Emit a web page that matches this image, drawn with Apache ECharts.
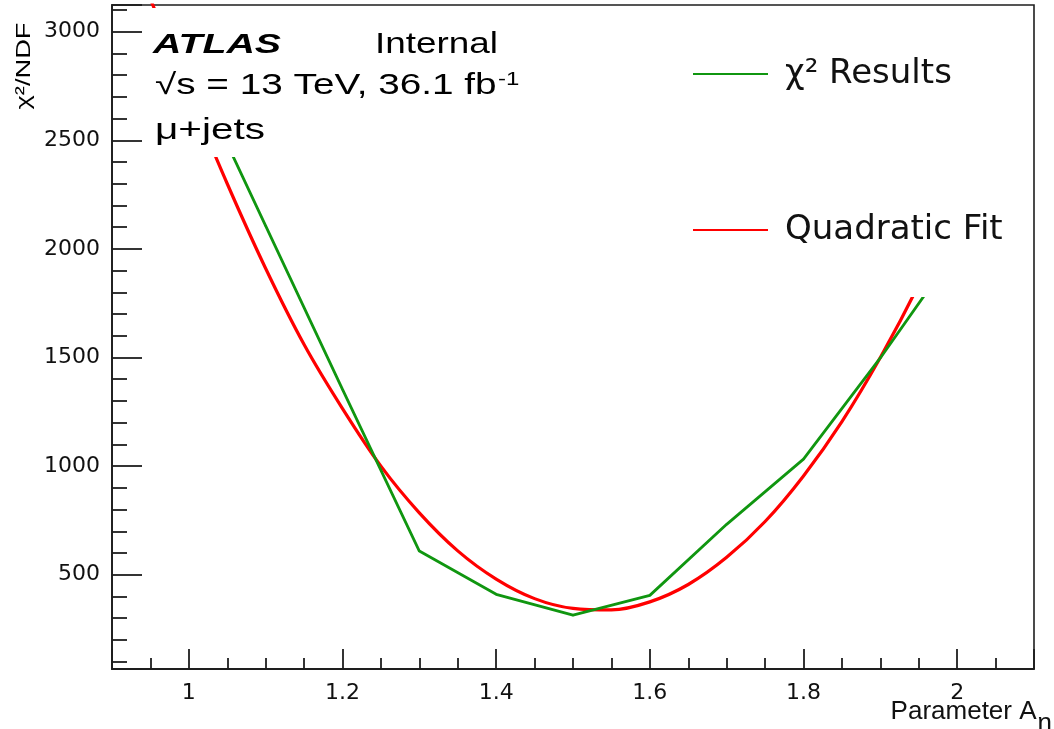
<!DOCTYPE html>
<html>
<head>
<meta charset="utf-8">
<script src="https://cdn.jsdelivr.net/npm/echarts@6/dist/echarts.min.js"></script>
<style>
  html, body { margin: 0; padding: 0; background: #ffffff; }
  #chart { width: 1054px; height: 729px; }
</style>
</head>
<body>
<div id="chart"></div>
<script>
// chi2/NDF scan over the parameter A_eta, with a quadratic fit
const scanParam = [1.0, 1.1, 1.2, 1.3, 1.4, 1.5, 1.6, 1.7, 1.8, 1.9, 2.0];
const scanChi2  = [2860, 2106, 1353, 609, 410, 314, 405, 732, 1032, 1498, 2000];

const fitParam = [0.95, 1.0, 1.05, 1.1, 1.15, 1.2, 1.25, 1.3, 1.35, 1.4, 1.45,
                  1.5, 1.55, 1.6, 1.65, 1.7, 1.75, 1.8, 1.85, 1.9, 1.95, 2.0];
const fitChi2  = [3150, 2720, 2300, 1910, 1560, 1265, 1000, 785, 610, 480, 390,
                  345, 338, 375, 455, 580, 745, 955, 1205, 1500, 1835, 2215];

const seriesNames = ['χ² Results', 'Quadratic Fit'];
const xRange = [0.9, 2.1];
const yRange = [66, 3123];

const pairs = (xs, ys) => xs.map((x, i) => [x, ys[i]]);

// text width helper, used to widen the annotation lines
const measureCtx = document.createElement('canvas').getContext('2d');
function textWidth(str, size, weight, style) {
  measureCtx.font = (style || 'normal') + ' ' + (weight || 'normal') + ' ' + size + 'px "Liberation Sans"';
  return measureCtx.measureText(str).width;
}

function label(opts) {
  const natural = opts.parts.reduce((w, p) => w + textWidth(p.t, p.size, opts.weight, opts.style), 0);
  const rich = {};
  let text = '';
  opts.parts.forEach((p, i) => {
    rich['p' + i] = {
      fontSize: p.size, fontFamily: 'Liberation Sans', fontWeight: opts.weight || 'normal',
      fontStyle: opts.style || 'normal', fill: '#000', verticalAlign: p.sup ? 'top' : 'middle',
      padding: p.sup ? [0, 0, 0, 1] : 0
    };
    text += '{p' + i + '|' + p.t + '}';
  });
  return {
    type: 'text', x: opts.x, y: opts.y, z: 101,
    rotation: opts.rotation || 0,
    scaleX: opts.width / natural,
    style: { text: text, rich: rich, fill: '#000', align: opts.align || 'left', verticalAlign: 'middle' }
  };
}

const chart = echarts.init(document.getElementById('chart'), null, { renderer: 'canvas' });

const axisColor = '#1e1e1e';

chart.setOption({
  animation: false,
  backgroundColor: '#ffffff',
  grid: {
    left: 112, top: 5, right: 20, bottom: 60,
    outerBoundsMode: 'none', containLabel: false,
    show: true, borderColor: axisColor, borderWidth: 1.6, backgroundColor: 'transparent'
  },
  xAxis: {
    type: 'value',
    min: xRange[0], max: xRange[1],
    splitNumber: 6, minInterval: 0.2, maxInterval: 0.2,
    axisLine: { show: true, onZero: false, lineStyle: { color: axisColor, width: 1.8 } },
    axisTick: { show: true, inside: true, length: 20, lineStyle: { color: axisColor, width: 1.8 } },
    minorTick: { show: true, splitNumber: 4, length: 11, lineStyle: { color: axisColor, width: 1.8 } },
    splitLine: { show: false },
    axisLabel: {
      margin: 13, color: '#111', fontSize: 22, fontFamily: 'DejaVu Sans',
      formatter: v => {
        const k = Math.round(v * 5);
        if (Math.abs(v * 5 - k) > 1e-6 || v < 0.99 || v > 2.01) return '';
        return String(Math.round(v * 10) / 10);
      }
    },
    name: '{a|Parameter A}{b|η}',
    nameLocation: 'end',
    nameGap: 18,
    nameMoveOverlap: false,
    nameTextStyle: {
      align: 'right', verticalAlign: 'top', padding: [18, 0, 0, 0],
      rich: {
        a: { fontSize: 26, fontFamily: 'Liberation Sans', color: '#111' },
        b: { fontSize: 26, fontFamily: 'Liberation Sans', color: '#111', padding: [24, 0, 0, 1] }
      }
    }
  },
  yAxis: {
    type: 'value',
    min: yRange[0], max: yRange[1],
    splitNumber: 6, minInterval: 500, maxInterval: 500,
    axisLine: { show: true, onZero: false, lineStyle: { color: axisColor, width: 1.8 } },
    axisTick: { show: true, inside: true, length: 30, lineStyle: { color: axisColor, width: 1.8 } },
    minorTick: { show: true, splitNumber: 5, length: 15, lineStyle: { color: axisColor, width: 1.8 } },
    splitLine: { show: false },
    axisLabel: {
      margin: 12, color: '#111', fontSize: 22, fontFamily: 'DejaVu Sans',
      formatter: v => (v >= 500 && Math.abs(v % 500) < 1e-6) ? String(Math.round(v)) : ''
    }
  },
  legend: {
    orient: 'vertical',
    left: 680, top: 7,
    padding: [49, 22, 49, 13],
    backgroundColor: '#ffffff',
    itemGap: 120,
    itemWidth: 75, itemHeight: 2,
    icon: 'rect',
    data: seriesNames,
    textStyle: {
      fontSize: 34, fontFamily: 'DejaVu Sans', color: '#111',
      lineHeight: 36, padding: [0, 0, 0, 12]
    }
  },
  series: [
    {
      name: seriesNames[0],
      type: 'line',
      data: pairs(scanParam, scanChi2),
      showSymbol: true, symbol: 'circle', symbolSize: 2,
      itemStyle: { color: '#109610', borderWidth: 0 },
      lineStyle: { color: '#109610', width: 2.8 },
      z: 3
    },
    {
      name: seriesNames[1],
      type: 'line',
      data: pairs(fitParam, fitChi2),
      smooth: 0.35,
      showSymbol: false,
      itemStyle: { color: '#ff0000' },
      lineStyle: { color: '#ff0000', width: 3.2 },
      z: 2
    }
  ],
  graphic: [
    { type: 'rect', z: 100, shape: { x: 147, y: 8, width: 380, height: 149 }, style: { fill: '#ffffff' } },
    label({ x: 153, y: 45, width: 128, weight: 'bold', style: 'italic', parts: [{ t: 'ATLAS', size: 28 }] }),
    label({ x: 375, y: 45, width: 123, parts: [{ t: 'Internal', size: 29 }] }),
    label({ x: 155, y: 86, width: 363, parts: [{ t: '√s = 13 TeV, 36.1 fb', size: 29 }, { t: '-1', size: 18, sup: true }] }),
    label({ x: 155, y: 131, width: 110, parts: [{ t: 'μ+jets', size: 29 }] }),
    label({ x: 24, y: 66, width: 87, rotation: Math.PI / 2, align: 'center', parts: [{ t: 'χ²/NDF', size: 20 }] })
  ]
});
</script>
</body>
</html>
